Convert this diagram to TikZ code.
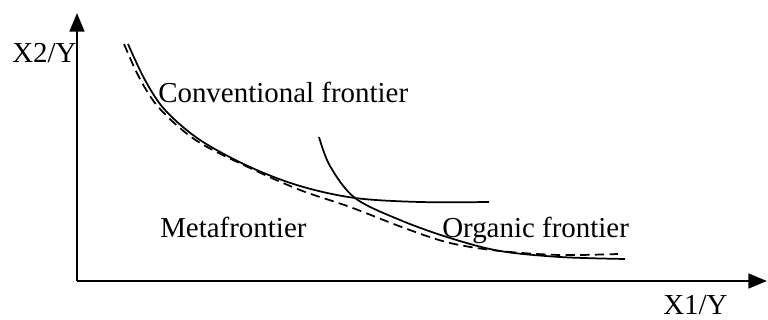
\documentclass[tikz,border=0pt]{standalone}
\usepackage{fontspec}
\setmainfont{Liberation Serif}
\usetikzlibrary{arrows.meta}
\begin{document}
\begin{tikzpicture}[x=0.75pt,y=-0.75pt,
  lbl/.style={anchor=base west,inner sep=0pt,font=\fontsize{21.7}{26}\selectfont},
  axis/.style={line width=2pt,-{Triangle[length=14pt,width=11pt]}},
  front/.style={line width=1.3pt},
  meta/.style={line width=1.3pt,dash pattern=on 7pt off 4pt}]
\useasboundingbox (0,0) rectangle (768,320);
\coordinate (o) at (77,281);
\coordinate (ytip) at (77,13);
\coordinate (xtip) at (767,281);
\draw[axis] (o) -- (ytip);
\draw[axis] (o) -- (xtip);
\node[lbl] (ylab) at (12,63) {X2/Y};
\node[lbl] (xlab) at (663,315) {X1/Y};
\node[lbl] (conv) at (158,103) {Conventional frontier};
\node[lbl] (metal) at (160,238) {Metafrontier};
\node[lbl] (org) at (442,238) {Organic frontier};
% conventional frontier
\draw[front] plot[smooth,tension=0.55] coordinates {(128,44) (145,80) (165,110) (200,140) (250,167) (300,186) (355,198) (420,202) (489,202)};
% organic frontier
\draw[front] plot[smooth,tension=0.55] coordinates {(319,137) (330,166) (355,198) (400,220) (450,238) (500,251) (560,257) (625,259)};
% metafrontier
\draw[meta] plot[smooth,tension=0.55] coordinates {(124,44) (140,79) (160,109) (197,141) (250,168) (300,190) (350,207) (407,229) (450,243) (500,251) (560,255) (618,254)};
\end{tikzpicture}
\end{document}
